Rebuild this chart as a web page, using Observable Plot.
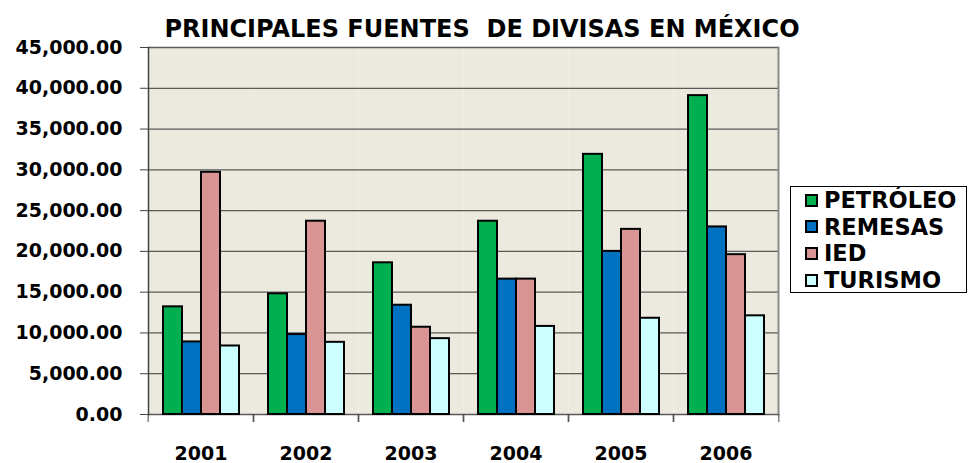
<!DOCTYPE html>
<html>
<head>
<meta charset="utf-8">
<script src="https://cdn.jsdelivr.net/npm/d3@7"></script>
<script src="https://cdn.jsdelivr.net/npm/@observablehq/plot@0.6"></script>
<style>
  html, body { margin: 0; padding: 0; background: #fff; }
  #wrap { position: relative; width: 972px; height: 463px; overflow: hidden; font-family: "DejaVu Sans", sans-serif; font-weight: bold; color: #000; }
  #title { position: absolute; left: 0; top: 17px; width: 964px; text-align: center; font-size: 24px; line-height: 24px; white-space: pre; }
  #chart { position: absolute; left: 0; top: 0; }
  #legend { position: absolute; left: 790px; top: 186px; width: 177px; height: 107px; border: 1.5px solid #000; box-sizing: border-box; padding-top: 0; }
  .item { display: flex; align-items: center; height: 26.6px; font-size: 22.5px; line-height: 22px; }
  .sw { width: 13px; height: 13px; border: 2px solid #000; box-sizing: border-box; margin-left: 14px; margin-right: 6px; }
</style>
</head>
<body>
<div id="wrap">
  <div id="title"></div>
  <div id="chart"></div>
  <div id="legend"></div>
</div>
<script>
const titleText = "PRINCIPALES FUENTES  DE DIVISAS EN MÉXICO";
const years = ["2001", "2002", "2003", "2004", "2005", "2006"];
const series = ["PETRÓLEO", "REMESAS", "IED", "TURISMO"];
const petroleo = [13200, 14800, 18600, 23700, 31900, 39100];
const remesas = [8900, 9800, 13400, 16600, 20000, 23000];
const ied = [29700, 23700, 10700, 16600, 22700, 19600];
const turismo = [8400, 8850, 9300, 10800, 11800, 12100];
const colors = ["#00B050", "#0070C0", "#D99594", "#CCFFFF"];
const yTicks = [0, 5000, 10000, 15000, 20000, 25000, 30000, 35000, 40000, 45000];

const valuesBySeries = [petroleo, remesas, ied, turismo];
const data = [];
years.forEach((yr, i) => {
  series.forEach((s, j) => data.push({year: yr, series: s, value: valuesBySeries[j][i]}));
});

document.getElementById("title").textContent = titleText;

const W = 785, H = 463, mL = 146, mR = 5, mT = 47, mB = 49;
const halfStep = (W - mL - mR) / years.length / 2;

const chart = Plot.plot({
  width: W,
  height: H,
  marginLeft: mL,
  marginRight: mR,
  marginTop: mT,
  marginBottom: mB,
  style: {fontFamily: "DejaVu Sans", fontWeight: "bold", fontSize: "19px", color: "#000", background: "transparent"},
  fx: {domain: years, padding: 0, label: null},
  x: {domain: series, paddingInner: 0, paddingOuter: 0.71, axis: null},
  y: {domain: [0, 45000], label: null},
  color: {domain: series, range: colors},
  marks: [
    Plot.frame({fill: "#ECE9DE", stroke: null}),
    Plot.ruleY(yTicks, {stroke: "#5a5a5a", strokeWidth: 1.3}),
    Plot.barY(data, {fx: "year", x: "series", y: "value", fill: "series", stroke: "#000", strokeWidth: 2}),
    Plot.frame({anchor: "right", stroke: "#8a8a8a", strokeWidth: 2, facetAnchor: "right"}),
    Plot.frame({anchor: "left", stroke: "#444", strokeWidth: 1.5, facetAnchor: "left"}),
    Plot.axisY(yTicks, {tickSize: 8, tickPadding: 18, tickFormat: d3.format(",.2f"), stroke: "#444", label: null, fontSize: 19}),
    Plot.axisFx({anchor: "bottom", tickSize: 0, tickPadding: 32, label: null, fontSize: 19}),
    Plot.axisFx({anchor: "bottom", tickSize: 8, text: null, dx: halfStep, stroke: "#444", label: null}),
    Plot.axisFx({anchor: "bottom", tickSize: 8, text: null, dx: -halfStep, stroke: "#444", label: null})
  ]
});
document.getElementById("chart").appendChild(chart);

const legend = document.getElementById("legend");
series.forEach((s, j) => {
  const item = document.createElement("div");
  item.className = "item";
  const sw = document.createElement("div");
  sw.className = "sw";
  sw.style.background = colors[j];
  const t = document.createElement("span");
  t.textContent = s;
  item.appendChild(sw);
  item.appendChild(t);
  legend.appendChild(item);
});
</script>
</body>
</html>
